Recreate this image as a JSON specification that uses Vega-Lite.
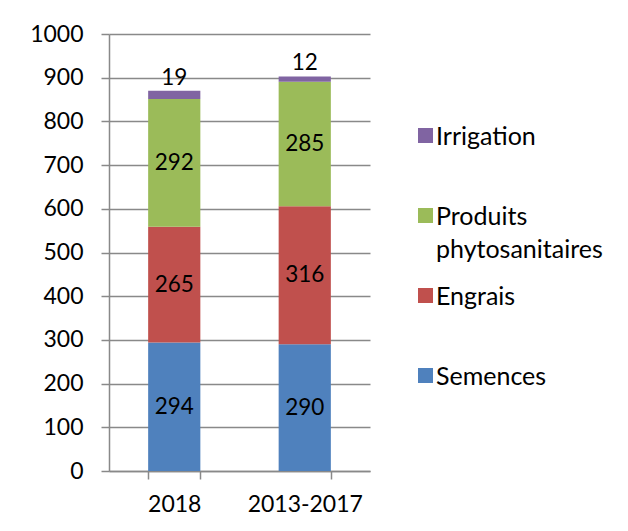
{
  "$schema": "https://vega.github.io/schema/vega-lite/v6.json",
  "width": 261,
  "height": 437,
  "autosize": {"type": "none"},
  "padding": {"left": 109, "top": 34, "right": 258, "bottom": 60},
  "background": "white",
  "config": {
    "font": "Lato",
    "view": {"stroke": null},
    "axisY": {
      "title": null,
      "values": [0, 100, 200, 300, 400, 500, 600, 700, 800, 900, 1000],
      "format": "d",
      "grid": true,
      "gridColor": "#898989",
      "gridWidth": 1.5,
      "domainColor": "#898989",
      "domainWidth": 1.5,
      "tickColor": "#898989",
      "tickWidth": 1.5,
      "tickSize": 8,
      "labelFontSize": 23,
      "labelColor": "black",
      "labelPadding": 18
    }
  },
  "data": {
    "values": [
      {"periode": "2018", "poste": "Semences", "valeur": 294},
      {"periode": "2018", "poste": "Engrais", "valeur": 265},
      {"periode": "2018", "poste": "Produits phytosanitaires", "valeur": 292},
      {"periode": "2018", "poste": "Irrigation", "valeur": 19},
      {"periode": "2013-2017", "poste": "Semences", "valeur": 290},
      {"periode": "2013-2017", "poste": "Engrais", "valeur": 316},
      {"periode": "2013-2017", "poste": "Produits phytosanitaires", "valeur": 285},
      {"periode": "2013-2017", "poste": "Irrigation", "valeur": 12}
    ]
  },
  "transform": [
    {"calculate": "indexof(['Semences','Engrais','Produits phytosanitaires','Irrigation'], datum.poste)", "as": "rang"},
    {"stack": "valeur", "groupby": ["periode"], "sort": [{"field": "rang", "order": "ascending"}], "as": ["v0", "v1"]},
    {"calculate": "(datum.v0 + datum.v1) / 2", "as": "milieu"}
  ],
  "encoding": {
    "x": {
      "field": "periode",
      "type": "nominal",
      "sort": ["2018", "2013-2017"],
      "scale": {"paddingInner": 0.6, "paddingOuter": 0.3},
      "axis": {
        "title": null,
        "labelAngle": 0,
        "tickBand": "extent",
        "tickSize": 8,
        "tickColor": "#898989",
        "tickWidth": 1.5,
        "domainColor": "#898989",
        "domainWidth": 1.5,
        "labelFontSize": 23,
        "labelColor": "black",
        "labelPadding": 14,
        "labelBaseline": "top"
      }
    }
  },
  "layer": [
    {
      "mark": {"type": "bar"},
      "encoding": {
        "y": {
          "field": "v0",
          "type": "quantitative",
          "scale": {"domain": [0, 1000], "nice": false},
          "axis": {"title": null}
        },
        "y2": {"field": "v1"},
        "color": {
          "field": "poste",
          "type": "nominal",
          "scale": {
            "domain": ["Irrigation", "Produits phytosanitaires", "Engrais", "Semences"],
            "range": ["#8064A2", "#9BBB59", "#C0504D", "#4F81BD"]
          },
          "legend": {
            "title": null,
            "orient": "none",
            "legendX": 304,
            "legendY": 89,
            "symbolType": "square",
            "symbolSize": 225,
            "symbolStrokeWidth": 0,
            "symbolOpacity": 1,
            "labelFontSize": 25,
            "labelColor": "black",
            "labelOffset": -2,
            "labelLimit": 400,
            "gridAlign": "all",
            "rowPadding": 20,
            "padding": 0,
            "labelBaseline": "alphabetic",
            "labelExpr": "datum.label == 'Produits phytosanitaires' ? ['Produits', 'phytosanitaires'] : datum.label",
            "encode": {"labels": {"update": {"dy": {"value": 9}, "lineHeight": {"value": 33}}}}
          }
        }
      }
    },
    {
      "transform": [{"filter": "datum.poste != 'Irrigation'"}],
      "mark": {"type": "text", "fontSize": 22.5, "baseline": "middle", "color": "black"},
      "encoding": {
        "y": {"field": "milieu", "type": "quantitative", "axis": {"title": null}},
        "text": {"field": "valeur", "type": "quantitative"}
      }
    },
    {
      "transform": [{"filter": "datum.poste == 'Irrigation'"}],
      "mark": {"type": "text", "fontSize": 22.5, "baseline": "bottom", "dy": -1, "color": "black"},
      "encoding": {
        "y": {"field": "v1", "type": "quantitative", "axis": {"title": null}},
        "text": {"field": "valeur", "type": "quantitative"}
      }
    }
  ]
}
